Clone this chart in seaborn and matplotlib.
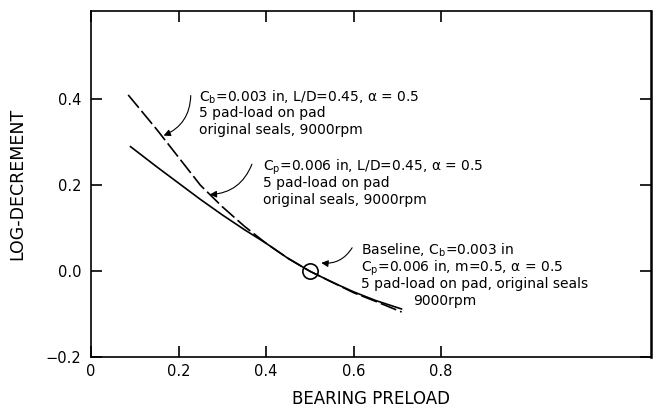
import numpy as np
import pandas as pd
import matplotlib
matplotlib.use("Agg")
import matplotlib.pyplot as plt
import seaborn as sns

# ---- data ----
preload_cb = [0.085, 0.15, 0.2, 0.25, 0.3, 0.35, 0.4, 0.45, 0.5, 0.55, 0.6, 0.65, 0.71]
logdec_cb = [0.41, 0.33, 0.265, 0.2, 0.15, 0.105, 0.065, 0.03, 0.0, -0.025, -0.05, -0.07, -0.095]
preload_cp = [0.09, 0.15, 0.2, 0.25, 0.3, 0.35, 0.4, 0.45, 0.5, 0.55, 0.6, 0.65, 0.71]
logdec_cp = [0.29, 0.243, 0.205, 0.167, 0.131, 0.097, 0.065, 0.03, 0.0, -0.025, -0.048, -0.068, -0.088]
baseline_x = [0.5]
baseline_y = [0.0]
xticks = [0, 0.2, 0.4, 0.6, 0.8]
xtick_labels = ["0", "0.2", "0.4", "0.6", "0.8"]
yticks = [-0.2, 0.0, 0.2, 0.4]
ytick_labels = ["\u22120.2", "0.0", "0.2", "0.4"]

df = pd.DataFrame({
    "preload": preload_cb + preload_cp,
    "logdec": logdec_cb + logdec_cp,
    "case": ["Cb"] * len(preload_cb) + ["Cp"] * len(preload_cp),
})

sns.set_style("ticks")
plt.rcParams["font.family"] = ["DejaVu Sans"]
plt.rcParams["mathtext.fontset"] = "dejavusans"

fig = plt.figure(figsize=(6.57, 4.11), dpi=100)
ax = fig.add_axes([0.1385, 0.131, 0.991 - 0.1385, 0.973 - 0.131])

sns.lineplot(data=df, x="preload", y="logdec", style="case",
             dashes={"Cb": (10, 2.5), "Cp": ""}, color="black", linewidth=1.2,
             legend=False, ax=ax, sort=False)
ax.plot(baseline_x, baseline_y, marker="o", markersize=11, markerfacecolor="none",
        markeredgecolor="black", markeredgewidth=1.2, linestyle="none")

ax.set_xlim(0, 1.28)
ax.set_ylim(-0.2, 0.605)
ax.set_xticks(xticks)
ax.set_xticklabels(xtick_labels)
ax.set_yticks(yticks)
ax.set_yticklabels(ytick_labels)
ax.tick_params(axis="both", direction="in", length=8, width=1.2, labelsize=10.5,
               top=True, right=True, colors="black")
ax.tick_params(axis="x", pad=5)
ax.tick_params(axis="y", pad=7)
for s in ax.spines.values():
    s.set_linewidth(1.2)
    s.set_color("black")
ax.spines["right"].set_linewidth(1.8)

ax.set_xlabel("BEARING PRELOAD", fontsize=12, labelpad=8, color="black")
ax.set_ylabel("LOG-DECREMENT", fontsize=12.5, labelpad=14, color="black")

fs = 10
def block(x, ys, lines, indents=None):
    for i, (y, t) in enumerate(zip(ys, lines)):
        xx = x if indents is None else x + indents[i]
        ax.text(xx, y, t, fontsize=fs, ha="left", va="center_baseline", color="black")

block(0.247, [0.41, 0.372, 0.332],
      [r"C$_\mathrm{b}$=0.003 in, L/D=0.45, α = 0.5",
       "5 pad-load on pad",
       "original seals, 9000rpm"])
block(0.393, [0.249, 0.209, 0.168],
      [r"C$_\mathrm{p}$=0.006 in, L/D=0.45, α = 0.5",
       "5 pad-load on pad",
       "original seals, 9000rpm"])
block(0.617, [0.053, 0.013, -0.026, -0.067],
      [r"Baseline, C$_\mathrm{b}$=0.003 in",
       r"C$_\mathrm{p}$=0.006 in, m=0.5, α = 0.5",
       "5 pad-load on pad, original seals",
       "9000rpm"],
      indents=[0, 0, 0, 0.12])

arrow_kw = dict(arrowstyle="-|>", color="black", lw=0.8, mutation_scale=10)
ax.annotate("", xy=(0.16, 0.313), xytext=(0.228, 0.415),
            arrowprops=dict(connectionstyle="arc3,rad=-0.35", **arrow_kw))
ax.annotate("", xy=(0.265, 0.178), xytext=(0.37, 0.255),
            arrowprops=dict(connectionstyle="arc3,rad=-0.35", **arrow_kw))
ax.annotate("", xy=(0.52, 0.02), xytext=(0.6, 0.06),
            arrowprops=dict(connectionstyle="arc3,rad=-0.35", **arrow_kw))

fig.savefig("out.png", dpi=100)
